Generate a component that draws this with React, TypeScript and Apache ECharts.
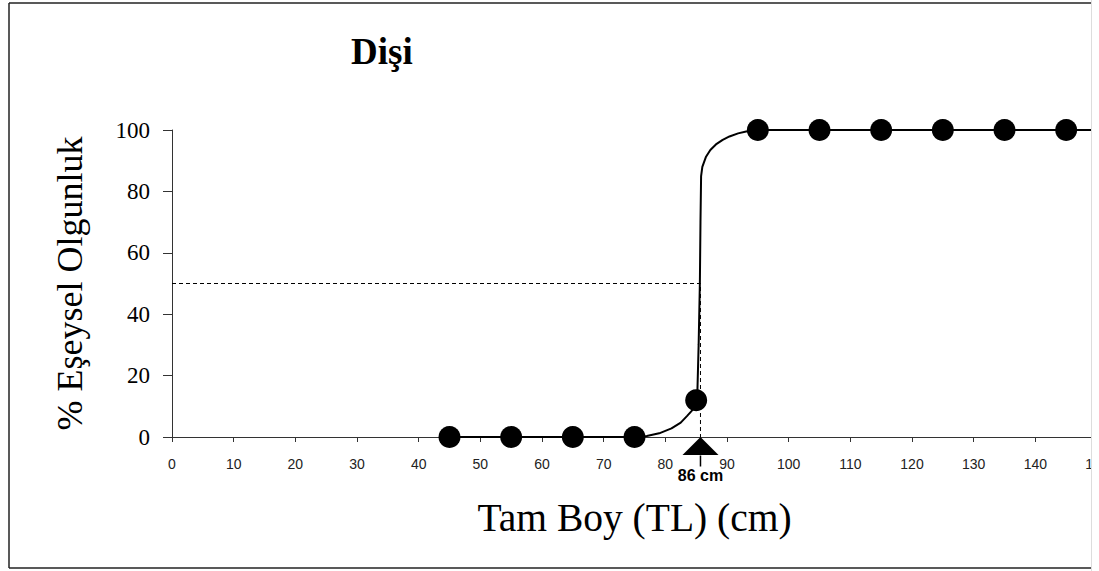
import React, { useEffect, useRef } from "react";
import * as echarts from "echarts";

// observed maturity points (length cm, % mature)
const lengths = [45, 55, 65, 75, 85, 95, 105, 115, 125, 135, 145];
const maturity = [0, 0, 0, 0, 12, 100, 100, 100, 100, 100, 100];

// fitted curve
const curveX = [45, 55, 65, 75, 77, 79, 81, 82.5, 83.5, 84.5, 85, 85.2, 85.4, 85.6, 85.7, 85.8, 86.0, 86.6, 87.3, 88.2, 89.3, 90.4, 91.8, 93.1, 95, 150];
const curveY = [0, 0, 0, 0, 0.3, 1.2, 2.8, 4.7, 6.8, 9, 11, 15, 30, 50, 70, 85, 88, 91.3, 93.5, 95.3, 96.8, 97.9, 98.9, 99.5, 100, 100];

// L50
const l50X = 85.7;
const l50Y = 50;
const l50Label = "86 cm";

const xTicksMax = 150;
const yTicksMax = 100;

export default function App() {
  const ref = useRef<HTMLDivElement>(null);
  useEffect(() => {
    if (!ref.current) return;
    const chart = echarts.init(ref.current, undefined, { renderer: "svg" });
    const curve = curveX.map((x, i) => [x, curveY[i]]);
    const pts = lengths.map((x, i) => [x, maturity[i]]);
    chart.setOption({
      animation: false,
      backgroundColor: "#fff",
      title: {
        text: "Dişi",
        left: 346,
        top: 28,
        textStyle: { fontFamily: "Liberation Serif", fontWeight: "bold", fontSize: 37, color: "#000" },
      },
      grid: { left: 172, right: 2, top: 130, bottom: 134, containLabel: false, outerBoundsMode: "none" },
      xAxis: {
        type: "value",
        min: 0,
        max: xTicksMax,
        interval: 10,
        name: "Tam Boy (TL) (cm)",
        nameLocation: "middle",
        nameGap: 61,
        nameTextStyle: { fontFamily: "Liberation Serif", fontSize: 39.5, color: "#000" },
        axisLine: { lineStyle: { color: "#333", width: 1 } },
        axisTick: { show: true, length: 5, lineStyle: { color: "#333" } },
        axisLabel: { fontFamily: "Liberation Sans", fontSize: 14, color: "#222", margin: 20 },
        splitLine: { show: false },
      },
      yAxis: {
        type: "value",
        min: 0,
        max: yTicksMax,
        interval: 20,
        name: "% Eşeysel Olgunluk",
        nameLocation: "middle",
        nameRotate: 90,
        nameGap: 84,
        nameTextStyle: { fontFamily: "Liberation Serif", fontSize: 36, color: "#000" },
        axisLine: { show: true, lineStyle: { color: "#333", width: 1 } },
        axisTick: { show: true, length: 9, lineStyle: { color: "#333" } },
        axisLabel: { fontFamily: "Liberation Serif", fontSize: 23, color: "#000", margin: 22 },
        splitLine: { show: false },
      },
      series: [
        {
          type: "line",
          data: [[0, l50Y], [l50X, l50Y], [l50X, 0]],
          symbol: "none",
          lineStyle: { color: "#000", width: 1, type: [4, 3] },
          z: 1,
        },
        {
          type: "line",
          data: curve,
          symbol: "none",
          lineStyle: { color: "#000", width: 2 },
          z: 2,
        },
        {
          type: "scatter",
          data: pts,
          symbol: "circle",
          symbolSize: 22,
          itemStyle: { color: "#000", opacity: 1 },
          z: 3,
        },
        {
          type: "scatter",
          data: [[l50X, 0]],
          symbol: "triangle",
          symbolSize: [36, 18],
          symbolOffset: [0, 9],
          itemStyle: { color: "#000", opacity: 1 },
          clip: false,
          z: 4,
        },
        {
          type: "scatter",
          data: [[l50X, 0]],
          symbol: "rect",
          symbolSize: [1.5, 11],
          symbolOffset: [0, 24],
          itemStyle: { color: "#000", opacity: 1 },
          clip: false,
          z: 4,
          label: {
            show: true,
            position: "bottom",
            distance: 1,
            formatter: l50Label,
            fontFamily: "Liberation Sans",
            fontWeight: "bold",
            fontSize: 16,
            color: "#000",
          },
        },
      ],
      graphic: [
        { type: "rect", z: 100, shape: { x: 1091, y: 0, width: 8, height: 571 }, style: { fill: "#fff" } },
        { type: "line", z: 101, shape: { x1: 9, y1: 3, x2: 1091, y2: 3 }, style: { stroke: "#222", lineWidth: 1.5 } },
        { type: "line", z: 101, shape: { x1: 9, y1: 3, x2: 9, y2: 568 }, style: { stroke: "#222", lineWidth: 1.5 } },
        { type: "line", z: 101, shape: { x1: 9, y1: 568, x2: 1091, y2: 568 }, style: { stroke: "#222", lineWidth: 1.5 } },
        { type: "line", z: 101, shape: { x1: 1091.5, y1: 0, x2: 1091.5, y2: 571 }, style: { stroke: "#ddd", lineWidth: 1 } },
      ],
    });
    return () => chart.dispose();
  }, []);
  return <div ref={ref} style={{ position: "fixed", left: 0, top: 0, width: 1099, height: 571 }} />;
}
